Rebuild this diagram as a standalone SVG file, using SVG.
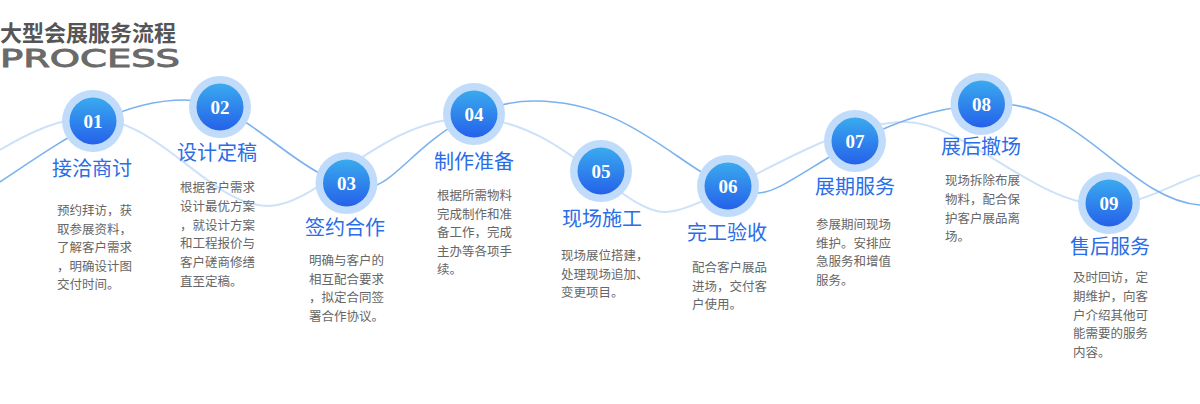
<svg xmlns="http://www.w3.org/2000/svg" width="1200" height="404" viewBox="0 0 1200 404">
  <defs>
    <linearGradient id="ball" x1="0" y1="0" x2="0" y2="1">
      <stop offset="0" stop-color="#3aaaee"/>
      <stop offset="1" stop-color="#2561ea"/>
    </linearGradient>
    <style>
      .halo { fill: #c0dcfa; }
      .ball { fill: url(#ball); }
      .num { font-family: "Liberation Serif", "Times New Roman", serif; font-weight: bold; font-size: 19px; fill: #ffffff; text-anchor: middle; }
      .ttl { font-family: "Noto Sans CJK SC", "Noto Sans", sans-serif; font-size: 20px; fill: #2a6de8; text-anchor: middle; }
      .desc { font-family: "Noto Sans CJK SC", "Noto Sans", sans-serif; font-size: 12.5px; fill: #666666; }
      .wave-dark { fill: none; stroke: #7ab2f0; stroke-width: 1.6; }
      .wave-light { fill: none; stroke: #cde2f9; stroke-width: 2; }
      .head { font-family: "Noto Sans CJK SC", "Noto Sans", sans-serif; font-weight: bold; font-size: 22px; fill: #555555; }
      .proc { font-family: "DejaVu Sans", "Liberation Sans", sans-serif; font-size: 24px; fill: #6a6a6a; stroke: #6a6a6a; stroke-width: 0.9; }
    </style>
  </defs>
  <rect width="1200" height="404" fill="#ffffff"/>

  <g id="header">
    <text class="head" x="0" y="40.5">大型会展服务流程</text>
    <text class="proc" x="0" y="67" textLength="180" lengthAdjust="spacingAndGlyphs">PROCESS</text>
  </g>

  <g id="connectors">
    <path class="wave-light" d="M0,150 C30,132 60,118 90,118 C160,118 210,206 268,206 C320,206 380,118 470,118 C560,118 620,212 665,212 C710,212 820,122 905,122 C965,122 1035,205 1105,205 C1140,205 1170,185 1200,175"/>
    <path class="wave-dark" d="M0,182 C70,135 120,100 185,100 C250,100 300,187 368,187 C400,187 440,101 535,101 C645,101 695,193 758,193 C795,193 870,104 1000,104 C1080,104 1130,200 1200,205"/>
  </g>

  <g id="step01">
    <circle class="halo" cx="93" cy="121" r="31"/>
    <circle class="ball" cx="93" cy="121" r="23.5"/>
    <text class="num" x="93" y="127.5">01</text>
    <text class="ttl" x="92" y="175.5">接洽商讨</text>
    <text class="desc" x="57" y="215"><tspan x="57" dy="0">预约拜访，获</tspan><tspan x="57" dy="18.6">取参展资料，</tspan><tspan x="57" dy="18.6">了解客户需求</tspan><tspan x="57" dy="18.6">，明确设计图</tspan><tspan x="57" dy="18.6">交付时间。</tspan></text>
  </g>

  <g id="step02">
    <circle class="halo" cx="220" cy="107" r="31"/>
    <circle class="ball" cx="220" cy="107" r="23.5"/>
    <text class="num" x="220" y="113.5">02</text>
    <text class="ttl" x="217" y="159.5">设计定稿</text>
    <text class="desc" x="180" y="192"><tspan x="180" dy="0">根据客户需求</tspan><tspan x="180" dy="18.8">设计最优方案</tspan><tspan x="180" dy="18.8">，就设计方案</tspan><tspan x="180" dy="18.8">和工程报价与</tspan><tspan x="180" dy="18.8">客户磋商修缮</tspan><tspan x="180" dy="18.8">直至定稿。</tspan></text>
  </g>

  <g id="step03">
    <circle class="halo" cx="346.5" cy="183" r="31"/>
    <circle class="ball" cx="346.5" cy="183" r="23.5"/>
    <text class="num" x="346.5" y="189.5">03</text>
    <text class="ttl" x="345" y="234.5">签约合作</text>
    <text class="desc" x="309" y="265"><tspan x="309" dy="0">明确与客户的</tspan><tspan x="309" dy="18.6">相互配合要求</tspan><tspan x="309" dy="18.6">，拟定合同签</tspan><tspan x="309" dy="18.6">署合作协议。</tspan></text>
  </g>

  <g id="step04">
    <circle class="halo" cx="474" cy="114" r="31"/>
    <circle class="ball" cx="474" cy="114" r="23.5"/>
    <text class="num" x="474" y="120.5">04</text>
    <text class="ttl" x="474" y="168.5">制作准备</text>
    <text class="desc" x="437" y="200"><tspan x="437" dy="0">根据所需物料</tspan><tspan x="437" dy="18.6">完成制作和准</tspan><tspan x="437" dy="18.6">备工作，完成</tspan><tspan x="437" dy="18.6">主办等各项手</tspan><tspan x="437" dy="18.6">续。</tspan></text>
  </g>

  <g id="step05">
    <circle class="halo" cx="601" cy="171" r="31"/>
    <circle class="ball" cx="601" cy="171" r="23.5"/>
    <text class="num" x="601" y="177.5">05</text>
    <text class="ttl" x="602" y="226">现场施工</text>
    <text class="desc" x="561" y="260"><tspan x="561" dy="0">现场展位搭建，</tspan><tspan x="561" dy="18.6">处理现场追加、</tspan><tspan x="561" dy="18.6">变更项目。</tspan></text>
  </g>

  <g id="step06">
    <circle class="halo" cx="728" cy="186" r="31"/>
    <circle class="ball" cx="728" cy="186" r="23.5"/>
    <text class="num" x="728" y="192.5">06</text>
    <text class="ttl" x="727" y="240">完工验收</text>
    <text class="desc" x="692" y="272"><tspan x="692" dy="0">配合客户展品</tspan><tspan x="692" dy="18.6">进场，交付客</tspan><tspan x="692" dy="18.6">户使用。</tspan></text>
  </g>

  <g id="step07">
    <circle class="halo" cx="855" cy="141" r="31"/>
    <circle class="ball" cx="855" cy="141" r="23.5"/>
    <text class="num" x="855" y="147.5">07</text>
    <text class="ttl" x="855" y="194">展期服务</text>
    <text class="desc" x="816" y="229"><tspan x="816" dy="0">参展期间现场</tspan><tspan x="816" dy="18.6">维护。安排应</tspan><tspan x="816" dy="18.6">急服务和增值</tspan><tspan x="816" dy="18.6">服务。</tspan></text>
  </g>

  <g id="step08">
    <circle class="halo" cx="981.5" cy="104" r="31"/>
    <circle class="ball" cx="981.5" cy="104" r="23.5"/>
    <text class="num" x="981.5" y="110.5">08</text>
    <text class="ttl" x="981" y="154">展后撤场</text>
    <text class="desc" x="945" y="185"><tspan x="945" dy="0">现场拆除布展</tspan><tspan x="945" dy="18.8">物料，配合保</tspan><tspan x="945" dy="18.8">护客户展品离</tspan><tspan x="945" dy="18.8">场。</tspan></text>
  </g>

  <g id="step09">
    <circle class="halo" cx="1109" cy="203" r="31"/>
    <circle class="ball" cx="1109" cy="203" r="23.5"/>
    <text class="num" x="1109" y="209.5">09</text>
    <text class="ttl" x="1110" y="254">售后服务</text>
    <text class="desc" x="1073" y="282"><tspan x="1073" dy="0">及时回访，定</tspan><tspan x="1073" dy="18.8">期维护，向客</tspan><tspan x="1073" dy="18.8">户介绍其他可</tspan><tspan x="1073" dy="18.8">能需要的服务</tspan><tspan x="1073" dy="18.8">内容。</tspan></text>
  </g>
</svg>
